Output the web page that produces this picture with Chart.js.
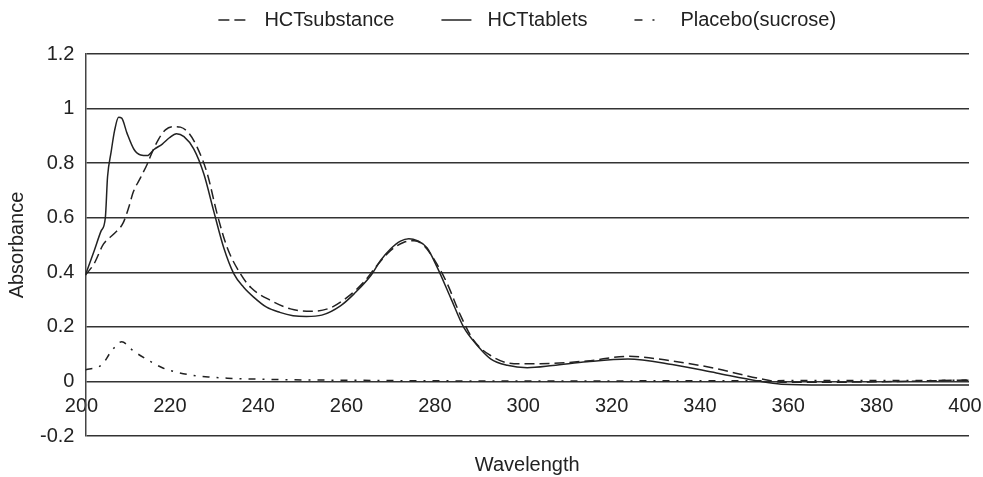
<!DOCTYPE html>
<html>
<head>
<meta charset="utf-8">
<script src="https://cdn.jsdelivr.net/npm/chart.js@4/dist/chart.umd.min.js"></script>
<style>
  html, body { margin: 0; padding: 0; background: #fff; }
  #wrap { width: 983px; height: 477px; position: relative; }
</style>
</head>
<body>
<div id="wrap"><canvas id="myChart"></canvas></div>
<script>
// HCT substance (dashed)
const substanceNm = [200, 201.9, 204.1, 206.4, 208.5, 209.8, 210.8, 212.5, 214, 215.1, 216.6, 218.1, 220, 221.5, 223.4, 225.3, 227.6, 229.8, 232.1, 235.1, 237.5, 241.9, 246.4, 251, 255.5, 259.3, 263, 266, 269.1, 272.1, 274.4, 276.6, 279.3, 281.9, 284.9, 287.9, 291.7, 297, 303, 313.5, 322.8, 332.8, 342.8, 352.1, 358.3, 367.5, 400];
const substanceAbs = [0.39, 0.43, 0.504, 0.54, 0.58, 0.638, 0.693, 0.748, 0.797, 0.84, 0.889, 0.922, 0.934, 0.932, 0.91, 0.858, 0.76, 0.614, 0.49, 0.394, 0.343, 0.297, 0.266, 0.257, 0.27, 0.309, 0.364, 0.425, 0.48, 0.51, 0.516, 0.498, 0.437, 0.358, 0.242, 0.15, 0.095, 0.065, 0.065, 0.075, 0.092, 0.075, 0.047, 0.012, -0.003, -0.003, 0.005];

// HCT tablets (solid)
const tabletsNm = [200, 202, 203.5, 204.5, 205, 205.8, 206.6, 207.5, 208.2, 209.4, 211, 212.5, 214, 215.5, 217.4, 219, 220.6, 222.3, 224.5, 226.8, 229, 231.3, 233.6, 235.8, 238, 241, 244, 247, 250, 253.5, 257.8, 260.8, 264.6, 266.8, 269.1, 271.3, 273.2, 275.1, 277.3, 279.6, 282.6, 285.6, 288.7, 291.7, 295.5, 300, 305.8, 313.5, 322.8, 332.8, 342.8, 352.1, 357.5, 367.5, 400];
const tabletsAbs = [0.39, 0.48, 0.55, 0.6, 0.75, 0.84, 0.92, 0.968, 0.965, 0.91, 0.85, 0.83, 0.828, 0.85, 0.87, 0.893, 0.908, 0.897, 0.852, 0.76, 0.626, 0.49, 0.394, 0.345, 0.31, 0.272, 0.253, 0.241, 0.238, 0.243, 0.278, 0.321, 0.388, 0.443, 0.486, 0.514, 0.523, 0.516, 0.49, 0.419, 0.309, 0.199, 0.132, 0.083, 0.059, 0.05, 0.058, 0.072, 0.082, 0.062, 0.031, 0.002, -0.01, -0.013, -0.013];

// placebo (dash-dot)
const placeboNm = [200, 203.8, 205.7, 208.2, 210.9, 214.3, 217.4, 220.8, 224.5, 228.3, 232.1, 239.6, 247, 262, 285, 320, 360, 400];
const placeboAbs = [0.043, 0.062, 0.107, 0.145, 0.111, 0.077, 0.05, 0.033, 0.022, 0.016, 0.012, 0.008, 0.006, 0.004, 0.002, 0.002, 0.003, 0.004];

const seriesNames = ["HCTsubstance", "HCTtablets", "Placebo(sucrose)"];

function toPoints(xs, ys) {
  return xs.map((x, i) => ({ x: x, y: ys[i] }));
}

const ink = "#222";
const fontFamily = "'Liberation Sans', Arial, sans-serif";

// legend samples are shorter than the box, the long last gap hides the rest
const legendDash = [[11, 5, 11, 1000], [30, 1000], [8, 10, 2, 1000]];

new Chart(document.getElementById("myChart").getContext("2d"), {
  type: "line",
  data: {
    datasets: [
      {
        label: seriesNames[0],
        data: toPoints(substanceNm, substanceAbs),
        borderColor: ink,
        borderWidth: 1.5,
        borderDash: [10, 5],
        pointRadius: 0,
        cubicInterpolationMode: "monotone",
        fill: false
      },
      {
        label: seriesNames[1],
        data: toPoints(tabletsNm, tabletsAbs),
        borderColor: ink,
        borderWidth: 1.5,
        pointRadius: 0,
        cubicInterpolationMode: "monotone",
        fill: false
      },
      {
        label: seriesNames[2],
        data: toPoints(placeboNm, placeboAbs),
        borderColor: ink,
        borderWidth: 1.5,
        borderDash: [7, 7, 2, 7],
        pointRadius: 0,
        cubicInterpolationMode: "monotone",
        fill: false
      }
    ]
  },
  options: {
    responsive: true,
    maintainAspectRatio: false,
    animation: false,
    layout: { padding: { left: 0, right: 14, top: -37, bottom: 0 } },
    plugins: {
      tooltip: { enabled: false },
      legend: {
        position: "top",
        fullSize: false,
        labels: {
          color: ink,
          font: { family: fontFamily, size: 20 },
          usePointStyle: true,
          pointStyle: "line",
          pointStyleWidth: 36,
          padding: 47,
          generateLabels(chart) {
            const items = Chart.defaults.plugins.legend.labels.generateLabels(chart);
            items.forEach((item, i) => {
              item.lineDash = legendDash[i];
              item.lineWidth = 1.5;
              item.strokeStyle = ink;
            });
            return items;
          }
        }
      },
      // empty spacer between legend and plot
      subtitle: {
        display: true,
        text: "",
        weight: 500,
        font: { size: 10 },
        padding: { top: 0, bottom: 2 }
      }
    },
    scales: {
      x: {
        type: "linear",
        min: 200,
        max: 400,
        position: "bottom",
        grid: { display: false, drawTicks: false },
        border: { display: false },
        ticks: { display: false },
        title: {
          display: true,
          text: "Wavelength",
          color: ink,
          font: { family: fontFamily, size: 20 },
          padding: { top: 17, bottom: 0 }
        }
      },
      x2: {
        type: "linear",
        axis: "x",
        min: 200,
        max: 400,
        position: { y: 0 },
        grid: { display: false, drawTicks: false },
        border: { display: false },
        ticks: {
          stepSize: 20,
          color: ink,
          font: { family: fontFamily, size: 20 },
          padding: 13,
          labelOffset: -4,
          maxRotation: 0
        },
        afterFit(scale) {
          // labels may run past the plot edges, like the original
          scale.paddingLeft = 0;
          scale.paddingRight = 0;
        }
      },
      y: {
        min: -0.2,
        max: 1.2,
        grid: { color: "#333", lineWidth: 1.5, drawTicks: false },
        border: { display: true, color: "#444", width: 1.5 },
        ticks: {
          stepSize: 0.2,
          color: ink,
          font: { family: fontFamily, size: 20 },
          padding: 11,
          callback: v => String(+v.toFixed(1))
        },
        title: {
          display: true,
          text: "Absorbance",
          color: ink,
          font: { family: fontFamily, size: 20 },
          padding: { top: 5, bottom: 0 }
        }
      }
    }
  }
});
</script>
</body>
</html>
